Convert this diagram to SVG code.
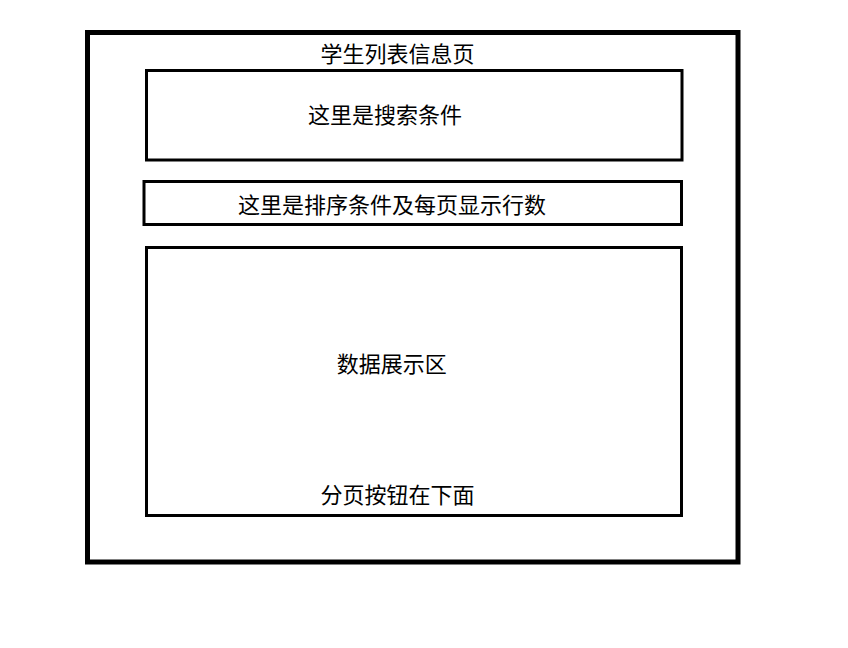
<svg xmlns="http://www.w3.org/2000/svg" width="848" height="648" viewBox="0 0 848 648">
<style>
.box{fill:none;stroke:#000;stroke-width:3}
.outer{fill:none;stroke:#000;stroke-width:5}
text{font-family:"Noto Sans CJK SC","Microsoft YaHei",sans-serif;font-size:22px;fill:#000;text-anchor:middle}
</style>
<rect width="848" height="648" fill="#fff"/>
<g id="page">
<rect class="outer" x="87.5" y="32.5" width="650.5" height="529.5"/>
<text x="397.5" y="62.4">学生列表信息页</text>
</g>
<g id="search">
<rect class="box" x="146.5" y="70.5" width="535.5" height="89.5"/>
<text x="385" y="123.4">这里是搜索条件</text>
</g>
<g id="sort">
<rect class="box" x="144" y="181.5" width="537.5" height="43"/>
<text x="392" y="213.4">这里是排序条件及每页显示行数</text>
</g>
<g id="data">
<rect class="box" x="146.5" y="247.5" width="535" height="268"/>
<text x="391.7" y="372.4">数据展示区</text>
<text x="397.5" y="503.4">分页按钮在下面</text>
</g>
<g id="connectors"></g>
</svg>
